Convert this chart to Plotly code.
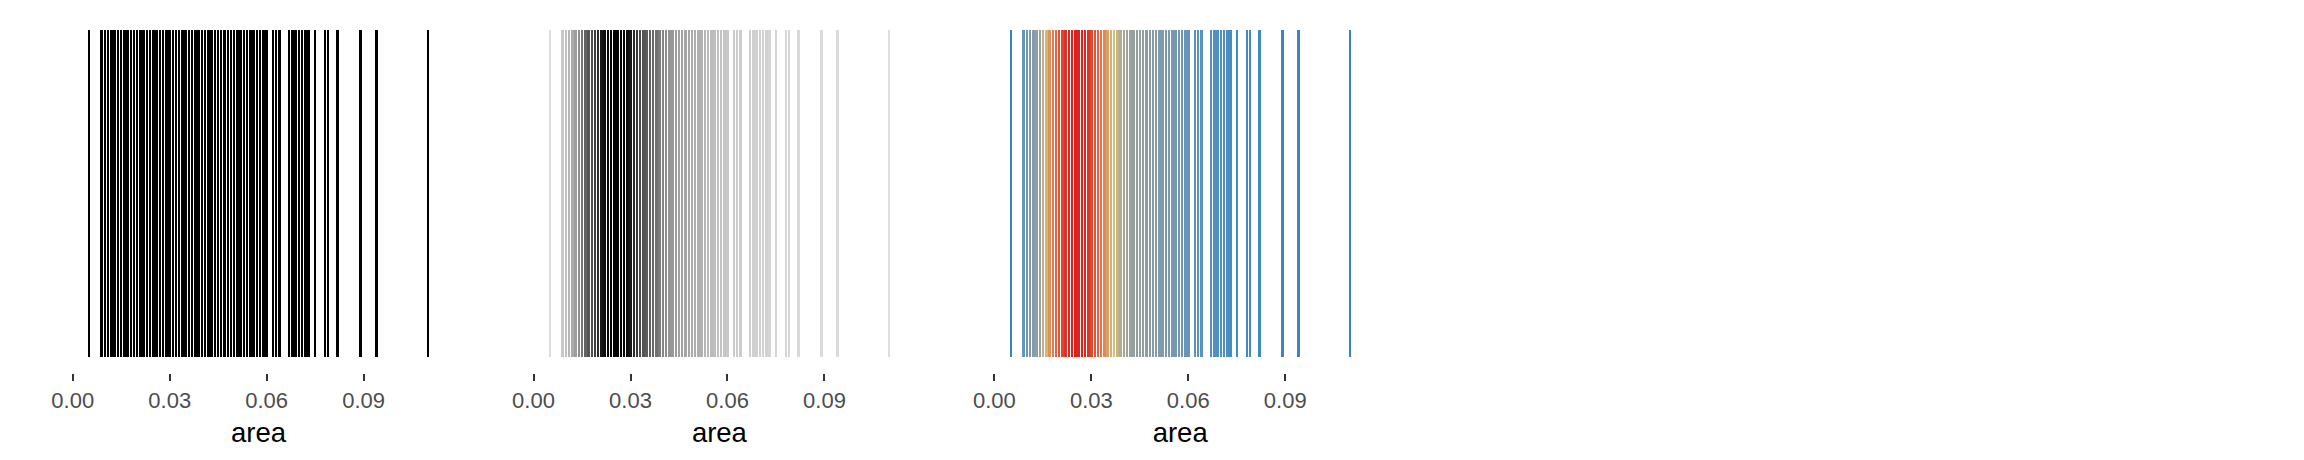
import plotly.graph_objects as go

# rug values (area) - same values in all three panels
area = [
    0.005,
    0.009, 0.010, 0.011, 0.012, 0.013, 0.014, 0.015, 0.016, 0.017, 0.018,
    0.019, 0.020, 0.021, 0.022, 0.023, 0.024, 0.025, 0.026, 0.027, 0.028,
    0.029, 0.030, 0.031, 0.032, 0.033, 0.034, 0.035, 0.036, 0.037, 0.038,
    0.039, 0.040, 0.041, 0.042, 0.043, 0.044, 0.045, 0.046, 0.047, 0.048,
    0.049, 0.050, 0.051, 0.052, 0.053, 0.054, 0.055, 0.056, 0.057, 0.058,
    0.059, 0.060,
    0.062, 0.063, 0.064,
    0.067, 0.068, 0.069, 0.070, 0.071, 0.072, 0.073,
    0.075, 0.078, 0.079, 0.082, 0.089, 0.094, 0.110,
]

# relative density at each line (0 = sparse, 1 = densest)
density = [
    0.00,
    0.15, 0.18, 0.22, 0.27, 0.32, 0.38, 0.46, 0.52, 0.62, 0.68,
    0.74, 0.80, 0.86, 0.92, 0.96, 0.99, 1.00, 0.98, 0.99, 0.97,
    0.92, 0.86, 0.80, 0.75, 0.70, 0.64, 0.58, 0.54, 0.50, 0.47,
    0.44, 0.42, 0.39, 0.36, 0.34, 0.32, 0.31, 0.30, 0.29, 0.28,
    0.27, 0.26, 0.25, 0.24, 0.22, 0.21, 0.20, 0.19, 0.18, 0.17,
    0.16, 0.15,
    0.13, 0.12, 0.12,
    0.10, 0.10, 0.09, 0.09, 0.08, 0.08, 0.07,
    0.06, 0.05, 0.05, 0.04, 0.02, 0.02, 0.00,
]

tick_vals = [0.00, 0.03, 0.06, 0.09]
x_title = "area"

W, H = 2304, 460
cell = W / 5          # five columns, only three used
left_off, right_off = 71.9, 445.3
y_bot, y_top = 86.6, 446.4

grey_scale = [[0, "#dedede"], [0.15, "#c8c8c8"], [0.3, "#a2a2a2"],
              [0.42, "#858585"], [0.5, "#666666"], [0.7, "#4c4c4c"],
              [0.85, "#1a1a1a"], [1, "#000000"]]
warm_scale = [[0, "#3484c2"], [0.1, "#5290c2"], [0.18, "#7396b2"],
              [0.3, "#8e9ea3"], [0.42, "#a3a696"], [0.5, "#d2bf80"],
              [0.62, "#e0905a"], [0.8, "#e05538"], [1, "#dc1e1c"]]

span = max(area) - min(area)
x_range = [min(area) - 0.05 * span, max(area) + 0.05 * span]

fig = go.Figure()

panel_colors = [
    dict(color="#000000"),
    dict(color=density, colorscale=grey_scale, cmin=0, cmax=1),
    dict(color=density, colorscale=warm_scale, cmin=0, cmax=1),
]

for i, mk in enumerate(panel_colors):
    sfx = "" if i == 0 else str(i + 1)
    fig.add_trace(go.Bar(
        x=area,
        y=[1] * len(area),
        width=0.0006,
        marker=dict(line=dict(width=0), **mk),
        xaxis="x" + sfx,
        yaxis="y" + sfx,
        showlegend=False,
        hoverinfo="x",
    ))
    x0 = (i * cell + left_off) / W
    x1 = (i * cell + right_off) / W
    fig.layout["xaxis" + sfx] = dict(
        domain=[x0, x1],
        range=x_range,
        anchor="y" + sfx,
        automargin=False,
        tickvals=tick_vals,
        tickformat=".2f",
        ticks="outside",
        ticklen=7,
        tickwidth=1.5,
        tickcolor="#333333",
        tickfont=dict(size=22, color="#4d4d4d"),
        showgrid=False,
        zeroline=False,
        showline=False,
        title=dict(text=x_title, font=dict(size=27.5, color="#000000"), standoff=10),
    )
    fig.layout["yaxis" + sfx] = dict(
        domain=[y_bot / H, y_top / H],
        range=[-0.05, 1.05],
        anchor="x" + sfx,
        visible=False,
        automargin=False,
    )

fig.update_layout(
    width=W,
    height=H,
    margin=dict(l=0, r=0, t=0, b=0),
    paper_bgcolor="white",
    plot_bgcolor="white",
    font=dict(family="Liberation Sans, Arial, sans-serif"),
    bargap=0,
)

# drop the browser's default 8px body margin so the figure sits at 0,0
fig.write_html("out.html", config={"displayModeBar": False},
               post_script="document.body.style.margin = '0';")
